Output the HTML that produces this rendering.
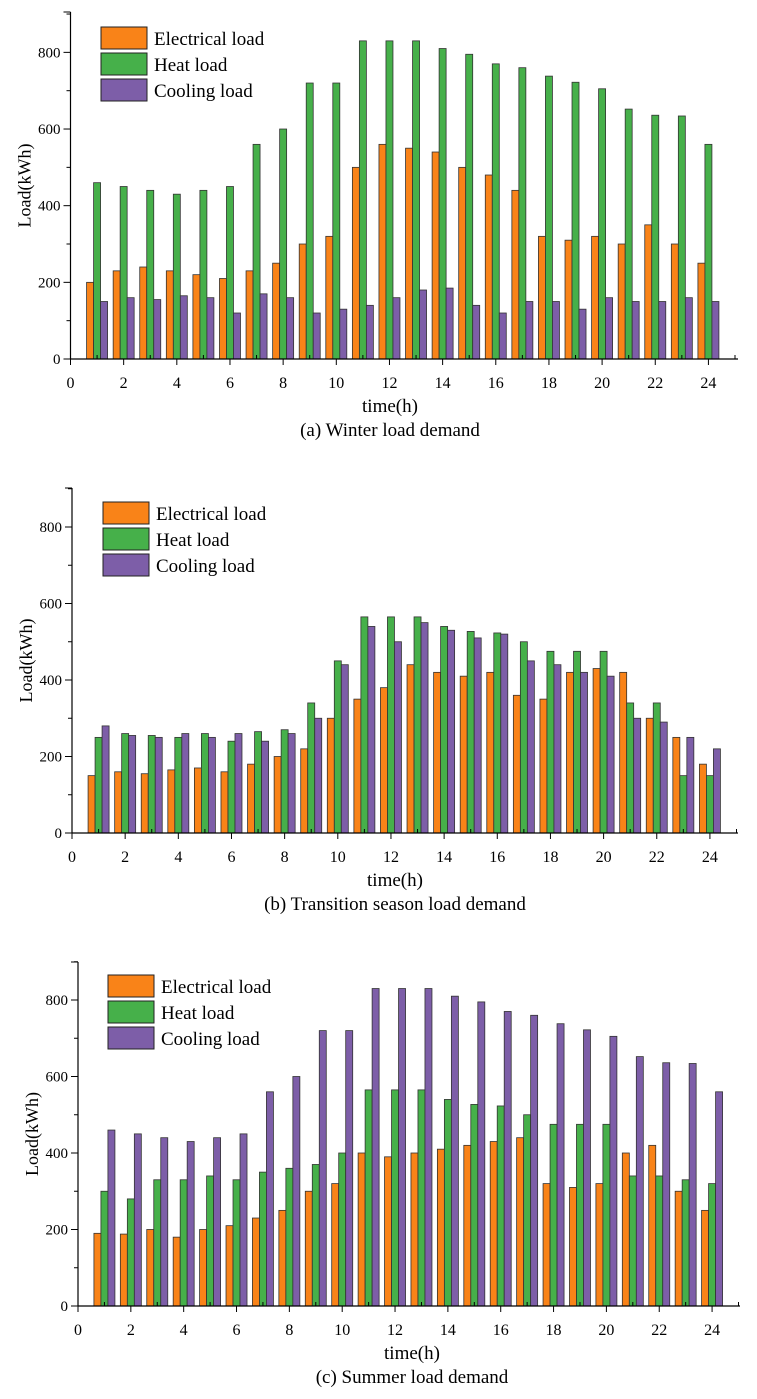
<!DOCTYPE html>
<html><head><meta charset="utf-8"><style>
html,body{margin:0;padding:0;background:#fff;}
svg{display:block;font-family:"Liberation Serif",serif;}
</style></head><body>
<svg id="svg" width="757" height="1399" viewBox="0 0 757 1399" xmlns="http://www.w3.org/2000/svg"></svg>
<script>
const hours=[1,2,3,4,5,6,7,8,9,10,11,12,13,14,15,16,17,18,19,20,21,22,23,24];
const xTicks=[0,2,4,6,8,10,12,14,16,18,20,22,24];
const yTicks=[0,200,400,600,800];
const winterElec=[200,230,240,230,220,210,230,250,300,320,500,560,550,540,500,480,440,320,310,320,300,350,300,250];
const winterHeat=[460,450,440,430,440,450,560,600,720,720,830,830,830,810,795,770,760,738,722,705,652,636,634,560];
const winterCool=[150,160,155,165,160,120,170,160,120,130,140,160,180,185,140,120,150,150,130,160,150,150,160,150];
const transElec=[150,160,155,165,170,160,180,200,220,300,350,380,440,420,410,420,360,350,420,430,420,300,250,180];
const transHeat=[250,260,255,250,260,240,265,270,340,450,565,565,565,540,527,523,500,475,475,475,340,340,150,150];
const transCool=[280,255,250,260,250,260,240,260,300,440,540,500,550,530,510,520,450,440,420,410,300,290,250,220];
const summerElec=[190,188,200,180,200,210,230,250,300,320,400,390,400,410,420,430,440,320,310,320,400,420,300,250];
const summerHeat=[300,280,330,330,340,330,350,360,370,400,565,565,565,540,527,523,500,475,475,475,340,340,330,320];
const summerCool=[460,450,440,430,440,450,560,600,720,720,830,830,830,810,795,770,760,738,722,705,652,636,634,560];
const colors=['#f98318','#46b04a','#7d5ea8'];
const names=['Electrical load','Heat load','Cooling load'];
const svg=document.getElementById('svg');
const NS='http://www.w3.org/2000/svg';
function mk(tag,attrs,parent){const e=document.createElementNS(NS,tag);for(const k in attrs)e.setAttribute(k,attrs[k]);(parent||svg).appendChild(e);return e;}
function chart(cfg){
  const g=mk('g',{});
  
  
  const X=v=>cfg.x0+v*cfg.sx, Y=v=>cfg.y0-v*cfg.sy;
  const series=[cfg.e,cfg.h,cfg.c];
  const bw=7;
  series.forEach((arr,si)=>{
    arr.forEach((v,i)=>{
      const cx=X(hours[i]);
      const r=mk('rect',{x:cx-bw*1.5+si*bw,y:Y(v),width:bw,height:Y(0)-Y(v),fill:colors[si],stroke:'#333','stroke-width':0.8},g);
      
      
    });
  });
  mk('line',{x1:cfg.x0,y1:cfg.top,x2:cfg.x0,y2:cfg.y0,stroke:'#000','stroke-width':1.2},g);
  mk('line',{x1:cfg.x0,y1:cfg.y0,x2:cfg.xend,y2:cfg.y0,stroke:'#000','stroke-width':1.2},g);
  mk('line',{x1:cfg.x0-7,y1:cfg.top,x2:cfg.x0,y2:cfg.top,stroke:'#000','stroke-width':1},g);
  yTicks.forEach(t=>{
    mk('line',{x1:cfg.x0-7,y1:Y(t),x2:cfg.x0,y2:Y(t),stroke:'#000','stroke-width':1},g);
    mk('line',{x1:cfg.x0-4,y1:Y(t+100),x2:cfg.x0,y2:Y(t+100),stroke:'#000','stroke-width':1},g);
    const tx=mk('text',{x:cfg.x0-10,y:Y(t)+5,'text-anchor':'end','font-size':15},g);tx.textContent=t;
    
    
  });
  xTicks.forEach(t=>{
    mk('line',{x1:X(t),y1:cfg.y0,x2:X(t),y2:cfg.y0+6,stroke:'#000','stroke-width':1},g);
    mk('line',{x1:X(t+1),y1:cfg.y0,x2:X(t+1),y2:cfg.y0-4,stroke:'#000','stroke-width':1},g);
    const tx=mk('text',{x:X(t),y:cfg.y0+29,'text-anchor':'middle','font-size':16},g);tx.textContent=t;
    
    
  });
  const xl=mk('text',{x:cfg.tx,y:cfg.y0+53,'text-anchor':'middle','font-size':19},g);
  xl.textContent='time(h)';
  
  
  const yl=mk('text',{x:0,y:0,'text-anchor':'middle','font-size':18,transform:`translate(${cfg.x0-40},${(cfg.top+cfg.y0)/2}) rotate(-90)`},g);
  yl.textContent='Load(kWh)';
  
  
  const cap=mk('text',{x:cfg.tx,y:cfg.y0+77,'text-anchor':'middle','font-size':19},g);
  cap.textContent=cfg.caption;
  
  
  names.forEach((n,i)=>{
    const ry=cfg.ly+i*26;
    const r=mk('rect',{x:cfg.lx,y:ry,width:46,height:22,fill:colors[i],stroke:'#222','stroke-width':1},g);
    
    
    const t=mk('text',{x:cfg.lx+53,y:ry+18,'font-size':19},g);t.textContent=n;
    
    
  });
}
chart({name:'winter-chart',x0:70.5,sx:26.58,y0:359,sy:0.3833,top:12,xend:738,tx:390,e:winterElec,h:winterHeat,c:winterCool,lx:101,ly:27,caption:'(a) Winter load demand'});
chart({name:'transition-chart',x0:72,sx:26.58,y0:833,sy:0.3825,top:488,xend:738,tx:395,e:transElec,h:transHeat,c:transCool,lx:103,ly:502,caption:'(b) Transition season load demand'});
chart({name:'summer-chart',x0:78,sx:26.42,y0:1306,sy:0.3825,top:962,xend:740,tx:412,e:summerElec,h:summerHeat,c:summerCool,lx:108,ly:975,caption:'(c) Summer load demand'});
</script>
</body></html>
